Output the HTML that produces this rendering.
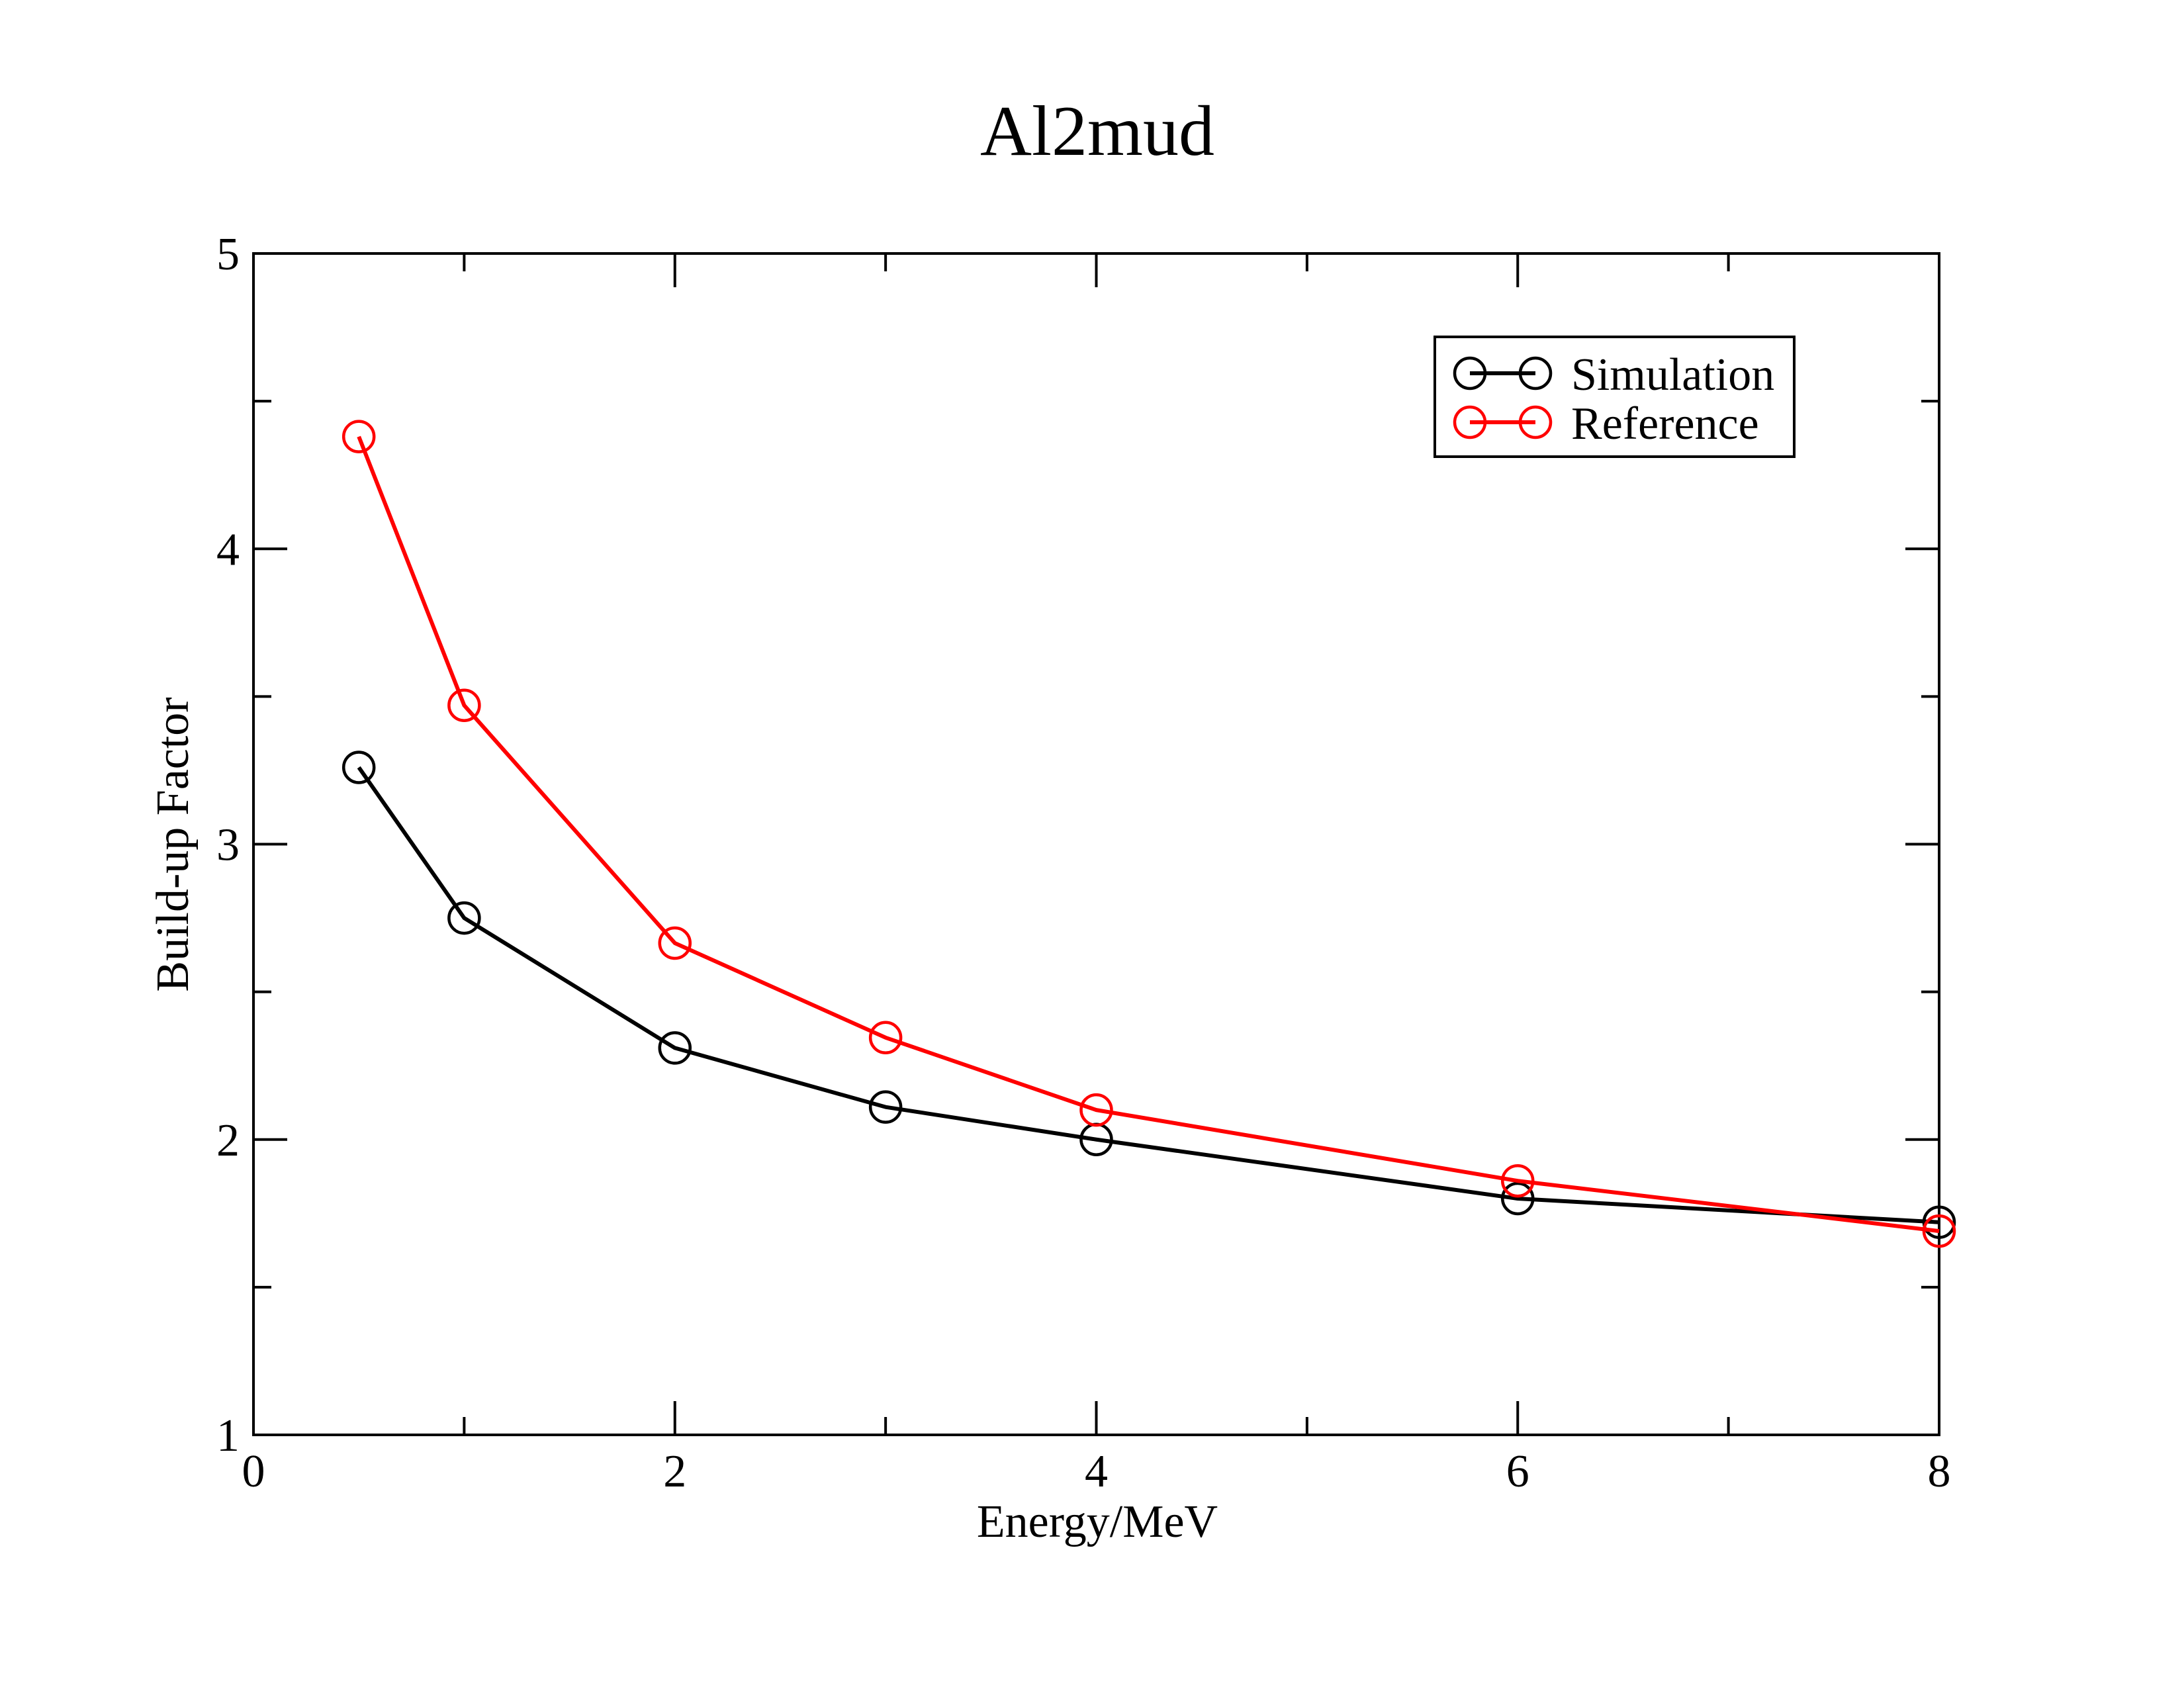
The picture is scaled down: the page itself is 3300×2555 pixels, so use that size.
<!DOCTYPE html>
<html><head><meta charset="utf-8"><style>
html,body{margin:0;padding:0;background:#fff;}
svg text{font-family:"Liberation Serif",serif;}
</style></head><body>
<svg id="chart" width="3300" height="2550" viewBox="0 0 3300 2550" xmlns="http://www.w3.org/2000/svg">
<rect width="3300" height="2550" fill="#fff"/>
<text x="1658" y="234" font-size="108" text-anchor="middle">Al2mud</text>
<g id="axes"></g>
<g id="series"></g>
<text x="1658" y="2322" font-size="70" text-anchor="middle">Energy/MeV</text>
<text transform="translate(284,1276) rotate(-90)" font-size="70" text-anchor="middle">Build-up Factor</text>
<g>
<rect x="2168" y="509" width="543" height="181" fill="#fff" stroke="#000" stroke-width="4"/>
<line x1="2221" y1="564" x2="2320" y2="564" stroke="#000" stroke-width="6"/>
<circle cx="2221" cy="564" r="23" fill="none" stroke="#000" stroke-width="4.5"/>
<circle cx="2320" cy="564" r="23" fill="none" stroke="#000" stroke-width="4.5"/>
<text x="2374" y="589" font-size="70">Simulation</text>
<line x1="2221" y1="638" x2="2320" y2="638" stroke="#f00" stroke-width="6"/>
<circle cx="2221" cy="638" r="23" fill="none" stroke="#f00" stroke-width="4.5"/>
<circle cx="2320" cy="638" r="23" fill="none" stroke="#f00" stroke-width="4.5"/>
<text x="2374" y="663" font-size="70">Reference</text>
</g>
</svg>
<script>
const energies = [0.5, 1, 2, 3, 4, 6, 8];
const simulation = [3.26, 2.75, 2.31, 2.11, 2.0, 1.80, 1.72];
const reference = [4.38, 3.47, 2.665, 2.345, 2.10, 1.86, 1.69];
const xTicks = [0, 2, 4, 6, 8];
const yTicks = [1, 2, 3, 4, 5];

const L=383,R=2930,T=383,B=2168;
const xs=v=>L+(v-0)/(8-0)*(R-L);
const ys=v=>B-(v-1)/(5-1)*(B-T);
const NS="http://www.w3.org/2000/svg";
function mk(tag,attrs,parent){const e=document.createElementNS(NS,tag);for(const k in attrs)e.setAttribute(k,attrs[k]);parent.appendChild(e);return e;}
const axes=document.getElementById('axes');
const frame=mk('rect',{x:L,y:T,width:R-L,height:B-T,fill:'none',stroke:'#000','stroke-width':4},axes);


for(let v=0;v<=8;v+=1){
  const maj=v%2===0,len=maj?51:27,x=xs(v);
  mk('line',{x1:x,y1:B,x2:x,y2:B-len,stroke:'#000','stroke-width':4},axes);
  mk('line',{x1:x,y1:T,x2:x,y2:T+len,stroke:'#000','stroke-width':4},axes);
}
for(let v=1;v<=5.001;v+=0.5){
  const maj=Math.abs(v-Math.round(v))<1e-6,len=maj?51:27,y=ys(v);
  mk('line',{x1:L,y1:y,x2:L+len,y2:y,stroke:'#000','stroke-width':4},axes);
  mk('line',{x1:R,y1:y,x2:R-len,y2:y,stroke:'#000','stroke-width':4},axes);
}
xTicks.forEach(v=>{
  const t=mk('text',{x:xs(v),y:2246,'font-size':70,'text-anchor':'middle'},axes);
  t.textContent=v;
  
  
});
yTicks.forEach(v=>{
  const t=mk('text',{x:362,y:ys(v)+24,'font-size':70,'text-anchor':'end'},axes);
  t.textContent=v;
  
  
});
const sg=document.getElementById('series');
function drawSeries(vals,color,name){
  const g=mk('g',{},sg);
  
  
  const pts=energies.map((e,i)=>xs(e)+','+ys(vals[i])).join(' ');
  const pl=mk('polyline',{points:pts,fill:'none',stroke:color,'stroke-width':6,'stroke-linejoin':'round'},g);
  
  
  energies.forEach((e,i)=>{
    const c=mk('circle',{cx:xs(e),cy:ys(vals[i]),r:23,fill:'none',stroke:color,'stroke-width':4.5},g);
    
    
  });
}
drawSeries(simulation,'#000','simulation');
drawSeries(reference,'#f00','reference');
</script>
</body></html>
